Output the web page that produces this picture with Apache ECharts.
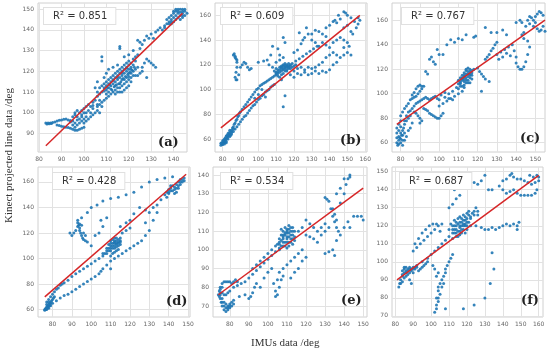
<!DOCTYPE html>
<html><head><meta charset="utf-8">
<script src="https://cdn.jsdelivr.net/npm/echarts@6/dist/echarts.min.js"></script>
<style>html,body{margin:0;padding:0;background:#fff}#c{width:550px;height:354px}</style>
</head><body><div id="c"></div>
<script>
// ---- data ----
const panelNames = ['(a)','(b)','(c)','(d)','(e)','(f)'];
const r2Labels = ['R² = 0.851','R² = 0.609','R² = 0.767','R² = 0.428','R² = 0.534','R² = 0.687'];
const xTicksA = [80,90,100,110,120,130,140];
const yTicksA = [90,100,110,120,130,140,150];
const xTicksB = [80,90,100,110,120,130,140,150,160];
const yTicksB = [60,80,100,120,140,160];
const xTicksC = [80,90,100,110,120,130,140,150];
const yTicksC = [60,80,100,120,140,160];
const xTicksD = [80,90,100,110,120,130,140,150];
const yTicksD = [60,80,100,120,140,160];
const xTicksE = [80,90,100,110,120,130,140,150];
const yTicksE = [70,80,90,100,110,120,130,140];
const xTicksF = [80,90,100,110,120,130,140,150,160];
const yTicksF = [70,80,90,100,110,120,130,140,150];

const fitA = [[83,84],[144,148]];
const fitB = [[79,69],[157,160]];
const fitC = [[78,75],[155,160]];
const fitD = [[76,70],[149,166]];
const fitE = [[74,76],[150,133]];
const fitF = [[81,90],[160,148]];

const ptsA = [[83,95],[83.5,94.5],[84,95],[84.5,94.6],[85,95],[85.5,94.8],[86,95.2],[87,95.5],[88,96],[89,96.3],[90,96.5],[91,96.8],[92,97],[93,96.5],[94,96.2],[95,96],
[88,94],[89,93.8],[90,93.5],[91,93.2],[92,93],[93,92.8],[94,92.5],[95,92],[96,91.5],[97,91.5],[98,92],[99,92.5],[100,93],
[95,98],[96,99],[96,100],[97,98],[97,101],[98,100],[98,97],[99,99],[99,101],[100,100],[100,102],[101,98],[101,103],[102,101],[102,104],[103,103],[103,100],[104,102],[104,105],[96,95],[97,94],[98,95],[99,96],[100,95],[101,96],[95,94],[94,95.5],[96,93],
[100,97],[102,97],[104,99],[105,100],[106,101],[107,100],[108,103],[106,104],[103,98],
[105,106],[106,108],[106,110],[107,109],[107,112],[108,110],[108,113],[109,112],[109,114],[110,111],[110,113],[110,115],[111,112],[111,114],[111,116],[112,113],[112,115],[112,117],[113,114],[113,116],[113,118],[114,115],[114,117],[114,119],[115,116],[115,118],[115,120],[116,117],[116,119],[116,121],[117,118],[117,120],[117,122],[118,119],[118,121],[118,123],[119,120],[119,122],[119,124],[120,121],[120,123],[120,125],[121,122],[121,124],[122,123],[122,126],[123,125],[123,127],
[113,110],[114,111],[115,112],[116,112],[117,113],[118,114],[119,115],[120,116],[121,117],[122,118],[121,115],[120,113],[119,112],[118,111],[117,110],[116,110],[115,110],[114,109],[112,109],[111,108],[110,107],[109,106],[108,105],[107,104],[106,103],[120,119],[122,120],[123,121],[124,122],[123,118],[121,119],[119,117],[117,116],
[108,127],[108,125],[116,132],[116,131],[111,121],[110,119],[106,115],[105,112],[109,117],[113,122],[115,123],[118,127],[120,128],
[124,128],[125,131],[126,133],[127,135],[124,135],[125,134],[122,130],[128,137],[129,136],[130,138],[131,136],[132,139],[133,140],[134,141],[135,140],[136,142],[137,143],[126,122],[127,124],[128,126],[129,125],[130,124],[131,123],[132,122],[126,120],[128,117],[125,119],[124,118],
[138,144],[139,145],[140,146],[140,148],[141,147],[141,149],[142,146],[142,148],[143,147],[143,150],[144,148],[144,146],[145,147],[145,149],[139,143],[138,146],[137,145],[140,144],[142,150],[143,145],[144,150],[141,145],
[109,110.5],[110.5,112],[111.5,113.5],[112.5,111],[113.5,112.5],[114.5,113.5],[115.5,114],[116.5,115],[117.5,116.5],[118.5,117.5],[119.5,118.5],[120.5,119.5],[121.5,120.5],[116,114],[118,116],[120,117.5],[114,113],[112,111.5],[121,121],[122.5,122],[119,121.5],[117,119],[115,117],[113,115.5],[111,110],[110,109],[107,106],[104,103.5],[101,100],[99,98],[97,96.5],
[139,147],[140,149],[141,150],[142,149],[143,148.5],[144,149],[145,150],[146,148],[144,147],[139,144],[138,143],[136,141]];

const ptsB = [[79,55],[79.5,56],[80,57],[80.5,57],[81,58],[81.5,59],[82,60],[82.5,61],[83,62],[83.5,63],[84,64],[84.5,66],[85,67],[85.5,69],[86,70],[86.5,72],[87,73],[87.5,75],[88,76],[88.5,78],[89,79],[89.5,81],[90,82],[91,84],[92,86],[93,88],[94,90],[95,92],[96,94],[97,96],[98,98],[99,100],[100,101],[101,103],[102,104],[103,105],[104,106],[105,107],[106,108],[107,109],[108,110],[109,111],[110,112],[111,113],[112,114],[113,115],[114,116],[115,117],[116,118],[117,119],[118,120],[119,121],
[80,56],[81,57],[82,58],[83,60],[84,62],[85,64],[86,66],[87,68],[88,70],[89,72],[90,74],[91,76],[92,78],[93,79],[94,81],[95,83],[96,85],[97,87],[98,88],[99,90],[100,92],[101,93],[102,95],[103,96],[104,98],[105,99],[106,100],[107,102],[108,103],[109,104],
[86,128],[86.5,129],[87,127],[87.5,125],[88,122],[88,118],[87.5,114],[87,110],[87.5,108],[88,108],[89,112],[90,118],[91,120],[92,122],[93,121],[94,118],[95,116],[96,117],[87,126],[88,124],
[100,122],[103,123],[105,124],[107,128],[106,120],[108,118],[110,122],[112,124],[112,128],[114,126],[115,138],[114,142],[111,133],[108,135],
[110,114],[111,116],[112,118],[113,117],[114,119],[115,118],[116,116],[117,117],[113,112],[112,110],[111,111],[114,113],[115,115],[116,120],[117,121],[115,121],[113,119],[110,117],[109,115],
[114,86],[115,95],[113,108],[104,94],[102,100],[100,96],[98,93],
[120,115],[122,117],[124,118],[126,116],[128,118],[130,117],[132,118],[134,120],[136,122],[138,126],[140,128],[142,130],[144,128],[146,126],[148,128],[150,130],[152,128],[151,135],[150,138],[148,140],[146,142],[148,134],
[130,145],[132,148],[134,147],[138,150],[140,152],[142,155],[144,154],[146,157],[148,163],[149,162],[150,160],[152,158],[154,155],[156,153],[157,156],[156,158],[155,150],[153,145],[152,147],[150,152],[148,150],
[120,130],[122,132],[124,137],[125,140],[126,142],[128,145],[130,140],[132,138],[134,135],[136,138],[138,136],[140,134],[142,138],[144,140],[136,145],[138,143],[123,146],[127,150],[143,156],[145,160],
[118,112],[120,110],[122,113],[124,112],[126,114],[128,112],[130,113],[132,115],[134,113],[136,115],[138,114],[140,116],[142,120],[144,122],[121,123],[123,125],[125,127],[127,129],[129,131],[131,133],[133,135],
[79.5,57],[80,58.5],[80.5,59],[81,60],[81.5,61],[82,62.5],[82.5,63],[83,64.5],[83.5,65],[84,67],[80,55.5],[81,56],[82,57],[79,56.5],[84.5,63],[85,65.5],[86,68],
[112,116],[113,118],[114,120],[115,119.5],[116,119],[117,118],[118,117],[114,117],[116,115],[111,114.5],[110,113],[118,119],[119,118],[120,119],[121,120]];

const ptsC = [[78,60],[78.5,58],[79,62],[79,65],[79.5,64],[80,60],[80,68],[80.5,66],[81,58],[81,70],[81.5,72],[82,75],[82,62],[83,65],[83,78],[84,80],[84,70],[85,72],[85,82],[86,76],[78,68],[78,72],[79,75],[80,78],[80,82],[81,85],[82,88],[83,90],[84,92],[85,95],[86,96],[87,97],[88,98],[89,100],[90,102],[91,104],[92,106],[89,106],[90,107],[91,106],[88,104],[87,101],[86,99],
[85,86],[86,88],[87,90],[88,92],[89,93],[90,94],[91,95],[92,96],[93,97],[94,96],[95,95],[96,96],[97,97],[98,98],[99,96],[100,95],[92,88],[93,87],[94,86],[95,84],[96,83],[97,82],[98,81],[99,80],[100,80],[101,82],[102,84],[89,82],[90,80],[91,78],[90,76],[88,84],[87,85],
[100,90],[102,92],[104,94],[106,96],[108,98],[110,100],[112,102],[103,97],[105,100],[107,102],[109,105],[111,108],[113,110],[101,99],[103,101],[105,96],[107,95],
[110,108],[111,110],[112,112],[113,114],[114,116],[115,118],[116,120],[112,106],[113,107],[114,109],[115,111],[116,113],[117,115],[111,113],[112,115],[113,117],[114,119],[115,121],[110,111],[116,109],[117,119],
[93,118],[94,116],[95,128],[96,130],[97,126],[98,124],[99,136],[100,132],[102,132],[104,140],[106,144],[108,142],[110,145],[112,144],[114,148],[118,146],[119,147],
[118,120],[120,121],[121,118],[122,116],[123,114],[124,112],[126,110],[122,102],[124,128],[125,130],[126,132],[127,135],[128,137],[129,140],[130,142],[124,154],[127,150],[130,150],[133,152],[135,148],
[138,140],[139,135],[140,130],[140,125],[141,122],[142,120],[143,120],[144,122],[145,126],[146,132],[147,138],[146,143],[144,145],[143,148],
[145,155],[146,160],[147,163],[148,162],[149,160],[150,158],[150,163],[151,165],[152,167],[153,166],[154,164],[154,155],[153,152],[152,151],[151,153],[155,151],[149,155],[147,157],[143,158],[142,160],[144,150],[140,158],
[130,132],[132,134],[134,136],[136,138],[131,128],[133,130],[135,133],[137,131],
[111,109],[112,111],[113,112],[114,113],[115,114],[116,115],[117,117],[113,115],[114,111],[115,116],[116,118],[112,113],[111,106],[110,104],[114,120],[116,116],[117,112],[115,109],[113,105],
[79,59],[80,63],[81,66],[82,68],[78,64],[79,70],[80,73],[81,62],[82,78],[83,82],[84,85]];

const ptsD = [[76,60],[76.5,61],[77,62],[77,60],[77.5,63],[78,64],[78,61],[78.5,65],[79,66],[79,63],[79.5,67],[80,68],[80,65],[80.5,69],[81,70],[77,66],[78,68],[79,70],[80,72],[81,74],[82,76],[83,77],[84,79],[85,80],[86,81],[88,83],[90,86],[92,88],[94,90],[96,92],[98,94],[100,96],[102,98],[104,100],[106,102],[108,104],
[82,67],[84,69],[86,71],[88,72],[90,74],[92,76],[94,78],[96,80],[98,82],[100,84],[102,86],[104,88],[106,92],[108,95],[110,98],
[93,128],[93.5,126],[94,124],[94,122],[94.5,120],[95,118],[95.5,116],[96,115],[97,114],[98,113],[93,125],[92,122],[91,120],[90,118],[89,120],[93,130],[94,127],[95,126],[96,120],[97,118],
[108,106],[109,108],[110,110],[111,112],[112,114],[113,112],[114,110],[112,108],[110,106],[109,111],[111,115],[112,110],[113,109],[114,113],[115,111],[113,106],[111,104],[110,102],[115,114],[112,105],[114,107],
[95,132],[98,136],[100,140],[103,142],[106,145],[110,147],[114,148],[118,150],[122,152],[126,156],[130,160],[134,162],[138,163],[142,164],
[138,150],[139,152],[140,154],[141,155],[142,153],[143,156],[144,158],[145,160],[146,162],[147,160],[148,161],[146,158],[145,155],[144,152],[143,151],[140,151],[141,157],[139,148],
[115,125],[118,128],[120,130],[122,135],[125,140],[128,138],[130,136],[132,140],[134,142],[136,146],[116,120],[118,122],[120,124],[100,110],[102,118],[104,120],[106,125],[105,130],[108,132],
[112,100],[114,102],[116,104],[118,106],[120,108],[122,110],[124,112],[126,114],[128,118],[130,122],[132,130],[134,136],[128,128],[110,92],[105,90],
[110,112],[111,110],[112,112],[113,111],[114,112],[115,113],[112,113],[113,114],[111,108],[110,108],[109,106],[108,108],[112,116],[113,116],[114,115],[115,116],[107,104],[106,104],[110,114],
[76,59.5],[76.5,60],[77,61],[77.5,61.5],[78,62.5],[78.5,63],[79,64.5],[77,64],[78,66],
[142,157],[143,154],[144,155],[145,157],[146,160],[147,162],[148,163],[140,152],[141,153]];

const ptsE = [[74,76],[74.5,78],[75,80],[75,74],[75.5,72],[76,70],[77,68],[78,67],[79,68],[80,69],[76,82],[77,83],[78,83],[79,83],[80,83],[81,82],[82,83],[83,84],[84,83],[76,77],[77,76],[78,76],[79,77],[80,78],[75,76],[76,74],[77,72],[78,71],[79,70],[80,71],[81,72],[82,73],
[82,80],[84,81],[86,82],[88,83],[90,85],[92,87],[94,89],[96,91],[98,93],[100,95],[102,97],[104,99],[106,100],[108,102],[110,104],[92,90],[94,92],[96,94],[98,96],[100,98],[102,100],[104,102],[106,104],[108,106],
[85,75],[88,76],[90,74],[91,75],[92,77],[93,80],[94,82],[96,80],[98,85],[100,88],[102,90],[103,82],[104,78],[104,75],[105,76],[106,80],[107,84],[108,86],[105,84],[106,88],[108,90],[110,92],[112,94],[114,96],[116,98],[118,100],[120,96],[118,94],[116,90],[114,88],[112,85],
[106,106],[107,108],[108,110],[109,112],[110,111],[111,113],[112,110],[113,108],[112,106],[111,104],[110,106],[109,108],[108,104],[110,109],[111,107],[113,103],[114,105],[112,112],[107,111],[106,103],[109,102],
[120,108],[122,107],[124,106],[126,104],[128,108],[130,110],[130,128],[131,127],[132,126],[133,122],[134,118],[135,115],[136,112],[137,110],[130,98],[132,99],[134,100],[135,97],[136,105],[138,108],[140,112],[142,115],[138,125],[140,130],[141,135],[142,138],[143,140],[143,139],[136,130],[138,133],[140,138],[145,118],[147,118],[149,118],[150,116],[143,112],[134,122],[136,116],[135,119],[132,112],[130,114],[128,112],[126,110],[124,112],[122,114],[120,116],[118,112],[116,110],
[107,105],[108,107],[109,109],[110,110],[111,111],[112,108],[113,110],[114,107],[111,109],[110,107],[109,104],[108,108],[112,104],[113,106],[107,102],[106,101],[105,103],[114,110],[113,112],[111,102],[110,101],
[74.5,75],[75,77],[75,79],[76,80],[76,72],[77,70],[78,69],[79,69],[80,70],[81,70],[82,71]];

const ptsF = [[82,86],[82.5,88],[83,90],[84,92],[84,95],[85,96],[85,97],[86,94],[86,92],[87,95],[88,96],[88,94],[89,96],[90,97],[90,94],[91,96],[92,97],[93,95],[94,96],[95,97],[96,98],[97,99],[98,100],[86,97],[87,93],[85,91],[84,89],[88,90],[89,88],
[95,100],[98,102],[100,104],[102,106],[104,108],[106,110],[108,112],[110,114],[112,116],[114,118],[116,120],[118,121],[120,122],[122,124],[124,126],[126,128],
[103,74],[103,76],[104,78],[104,80],[105,82],[104,84],[104,86],[105,88],[106,90],[107,92],[108,94],[108,96],[109,98],[110,100],[111,102],[112,104],[102,72],[103,80],[106,86],[107,88],[103,92],[104,94],[102,96],[101,98],[108,74],[118,74],[124,76],[130,80],[133,88],[135,96],[134,105],
[112,118],[113,120],[114,122],[115,124],[116,122],[117,120],[118,118],[119,120],[120,124],[121,126],[118,126],[116,125],[114,116],[115,114],[117,116],[119,116],[120,118],[122,120],[113,123],[111,121],[110,118],[112,113],[116,117],[119,123],
[90,106],[92,108],[94,110],[96,112],[98,114],[100,116],[102,118],[104,120],[106,121],[95,116],[97,118],[99,120],[101,121],[103,121],[105,117],[93,113],[91,110],
[110,130],[112,132],[114,135],[116,137],[113,140],[115,145],[120,142],[122,146],[124,144],[126,143],[128,145],[130,148],[132,140],[134,140],
[125,120],[128,119],[130,118],[132,118],[134,119],[136,118],[138,119],[140,120],[142,121],[144,120],[146,121],[148,120],[149,122],[148,118],
[138,142],[140,145],[142,146],[144,148],[145,149],[146,147],[148,146],[150,146],[152,145],[154,144],[156,143],[158,144],[160,147],[160,145],[159,140],[158,138],[156,137],[154,137],[152,137],[150,137],[148,138],[146,140],[144,139],[142,138],[140,140],[155,148],[157,147],[159,148],
[113,118],[114,120],[115,121],[116,119],[117,122],[118,123],[119,121],[120,120],[121,122],[122,125],[123,127],[115,117],[116,115],[114,114],[117,118],[118,120],[119,125],[120,127],[121,128],[124,128],[125,130],[126,126],[113,116],[112,120],[117,124],
[84,93],[85,94],[86,95],[87,96],[88,97],[89,95],[90,96],[91,97],[92,98],[83,88]];

// ---- layout ----
const panels = [
  {pts: ptsA, fit: fitA, xt: xTicksA, yt: yTicksA, xr:[79.5,146], yr:[81,153], g:{left:38,top:3,width:149,height:149}, r2:[43,7], lab:[158,136]},
  {pts: ptsB, fit: fitB, xt: xTicksB, yt: yTicksB, xr:[75.7,161], yr:[49.5,170], g:{left:215,top:3,width:152,height:149}, r2:[220,7], lab:[340,134]},
  {pts: ptsC, fit: fitC, xt: xTicksC, yt: yTicksC, xr:[75.5,155], yr:[52.4,174], g:{left:392,top:3,width:153,height:149}, r2:[401,7], lab:[520,132]},
  {pts: ptsD, fit: fitD, xt: xTicksD, yt: yTicksD, xr:[72.5,151], yr:[54.2,171.7], g:{left:38,top:167,width:152,height:150}, r2:[52,172], lab:[166,295]},
  {pts: ptsE, fit: fitE, xt: xTicksE, yt: yTicksE, xr:[71.2,152], yr:[64.1,144.3], g:{left:213,top:167,width:154,height:150}, r2:[220,172], lab:[341,294]},
  {pts: ptsF, fit: fitF, xt: xTicksF, yt: yTicksF, xr:[78.2,162.4], yr:[69.4,152.6], g:{left:392,top:167,width:151,height:150}, r2:[399,172], lab:[521,294]}
];

const grid=[], xAxis=[], yAxis=[], series=[], graphic=[];
const axisCommon = (vals, range) => ({
  type:'value', min:range[0], max:range[1],
  axisLine:{show:false}, axisTick:{show:false, customValues: vals},
  axisLabel:{customValues: vals, fontSize:6, color:'#666', margin:4, fontFamily:'DejaVu Sans'},
  splitLine:{show:true, lineStyle:{color:'#e2e2e2', width:1}}
});
panels.forEach((p,i)=>{
  grid.push(Object.assign({show:true, borderColor:'#d0d0d0', borderWidth:1, backgroundColor:'#fff'}, p.g));
  xAxis.push(Object.assign(axisCommon(p.xt,p.xr), {gridIndex:i}));
  yAxis.push(Object.assign(axisCommon(p.yt,p.yr), {gridIndex:i}));
  series.push({type:'scatter', xAxisIndex:i, yAxisIndex:i, data:p.pts, symbolSize:3, itemStyle:{color:'#1f77b4', opacity:0.9}, silent:true, animation:false});
  series.push({type:'line', xAxisIndex:i, yAxisIndex:i, data:p.fit, symbol:'none', lineStyle:{color:'#d62728', width:1.5}, silent:true, animation:false, z:3});
  graphic.push({type:'text', left:p.r2[0], top:p.r2[1], z:10, style:{text:r2Labels[i], font:'10px "DejaVu Sans"', fill:'#333', backgroundColor:'#fff', borderColor:'#e0e0e0', borderWidth:1, padding:[3,8,3,9]}});
  graphic.push({type:'text', left:p.lab[0], top:p.lab[1], z:10, style:{text:panelNames[i], font:'bold 13px "DejaVu Serif"', fill:'#222'}});
});
graphic.push({type:'text', left:4, top:88, rotation:Math.PI/2, z:10, style:{text:'Kinect projected line data /deg', font:'11px "Liberation Serif"', fill:'#333'}});
graphic.push({type:'text', left:251, top:338, z:10, style:{text:'IMUs data /deg', font:'11px "Liberation Serif"', fill:'#333'}});

const chart = echarts.init(document.getElementById('c'), null, {renderer:'canvas'});
chart.setOption({animation:false, backgroundColor:'#fff', grid, xAxis, yAxis, series, graphic});
</script></body></html>
